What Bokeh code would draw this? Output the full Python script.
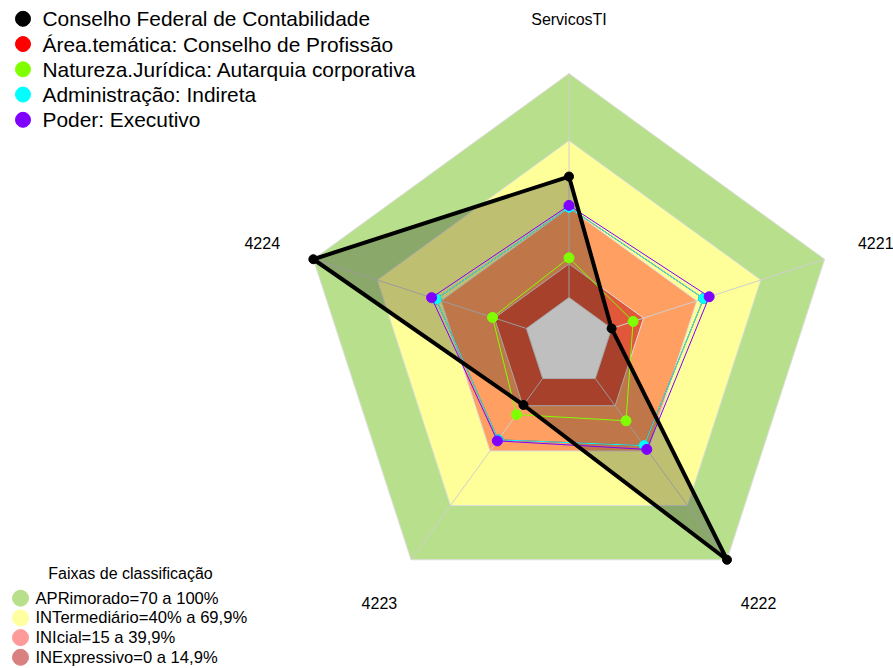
import numpy as np
from bokeh.plotting import figure
from bokeh.models import Range1d
from bokeh.embed import file_html
from bokeh.resources import INLINE
from bokeh.core.properties import value

# ---------------- data ----------------
categories = ["ServicosTI", "4221", "4222", "4223", "4224"]
angles_deg = [90, 18, -54, -126, 162]

series_names = [
    "Conselho Federal de Contabilidade",
    "Área.temática: Conselho de Profissão",
    "Natureza.Jurídica: Autarquia corporativa",
    "Administração: Indireta",
    "Poder: Executivo",
]
series_colors = ["#000000", "#FF0000", "#80FF00", "#00FFFF", "#8000FF"]

conselho = [54.0, 0.0, 100.0, 14.6, 100.0]
area_tematica = [40.2, 43.2, 37.0, 33.8, 42.4]
natureza = [17.7, 10.1, 23.3, 19.9, 15.9]
administracao = [40.2, 43.2, 37.0, 33.8, 42.4]
poder = [41.1, 45.8, 39.1, 34.4, 44.5]
series_values = [conselho, area_tematica, natureza, administracao, poder]

band_labels = ["APRimorado=70 a 100%", "INTermediário=40% a 69,9%",
               "INIcial=15 a 39,9%", "INExpressivo=0 a 14,9%"]
band_upper = [100, 70, 40, 15]
band_colors = ["#B8E08C", "#FFFF99", "#FF9F62", "#E0573A"]
band_legend_colors = ["#B8E08C", "#FFFFA0", "#FF9A9A", "#D98080"]
legend_title = "Faixas de classificação"

# ---------------- geometry ----------------
W, H = 893, 668
OFF = 0                 # offset of canvas inside the picture
CX, CY = 568.5, 341.8   # centre of radar (px)
R = 268.8               # px for 100 %
FONT = "Liberation Sans"

ang = np.deg2rad(angles_deg)
cosa, sina = np.cos(ang), np.sin(ang)


def radial(pct):
    r = 1.0 / 6.0 + np.asarray(pct, dtype=float) / 100.0 * 5.0 / 6.0
    return list(r * cosa), list(r * sina)


def px(x):
    return (x - OFF - CX) / R


def py(y):
    return (CY - (y - OFF)) / R


p = figure(width=W, height=H, output_backend="svg", toolbar_location=None,
           x_range=Range1d(-CX / R, (W - CX) / R),
           y_range=Range1d(-(H - CY) / R, CY / R),
           min_border=0, outline_line_color=None,
           x_axis_location=None, y_axis_location=None)
p.grid.visible = False
p.background_fill_color = "white"
p.border_fill_color = "white"

# bands
for up, col in zip(band_upper, band_colors):
    bx, by = radial([up] * 5)
    p.patch(bx, by, fill_color=col, line_color="#dedede", line_width=1)
cx0, cy0 = radial([0] * 5)
p.patch(cx0, cy0, fill_color="white", line_color="#dedede", line_width=1)

# axis spokes
ix, iy = radial([0] * 5)
ox, oy = radial([100] * 5)
p.segment(x0=ix, y0=iy, x1=ox, y1=oy, line_color="#cfcfcf", line_width=1)

# axis labels
p.text(x=list(1.2 * cosa), y=list(1.2 * sina), text=categories,
       text_align="center", text_baseline="middle",
       text_font=value(FONT), text_font_size="16px", text_color="black")

# first series fill
sx, sy = radial(conselho)
p.patch(sx, sy, fill_color="black", fill_alpha=0.25, line_color=None)

# other series
for vals, col in zip(series_values[1:], series_colors[1:]):
    vx, vy = radial(vals)
    p.line(vx + [vx[0]], vy + [vy[0]], line_color=col, line_width=1)
    p.scatter(vx, vy, size=10, fill_color=col, line_color=col)

# first series outline on top
p.line(sx + [sx[0]], sy + [sy[0]], line_color="black", line_width=4, line_join="round")
p.scatter(sx, sy, size=9, fill_color="black", line_color="black")

# legend 1 (series)
ly = [18.3 + i * 25.25 for i in range(len(series_names))]
p.scatter([px(22.5)] * len(ly), [py(v) for v in ly], size=15,
          fill_color=series_colors, line_color=series_colors)
p.text(x=[px(42)] * len(ly), y=[py(v) for v in ly], text=series_names,
       text_align="left", text_baseline="middle",
       text_font=value(FONT), text_font_size="20.9px", text_color="black")

# legend 2 (bands)
p.text(x=[px(130)], y=[py(573)], text=[legend_title], text_align="center",
       text_baseline="middle", text_font=value(FONT), text_font_size="16px",
       text_color="black")
by_ = [597.7 + i * 19.7 for i in range(len(band_labels))]
p.scatter([px(20)] * len(by_), [py(v) for v in by_], size=16,
          fill_color=band_legend_colors, line_color=band_legend_colors)
p.text(x=[px(35)] * len(by_), y=[py(v) for v in by_], text=band_labels,
       text_align="left", text_baseline="middle",
       text_font=value(FONT), text_font_size="16.6px", text_color="black")

open("out.html", "w").write(file_html(p, INLINE))
